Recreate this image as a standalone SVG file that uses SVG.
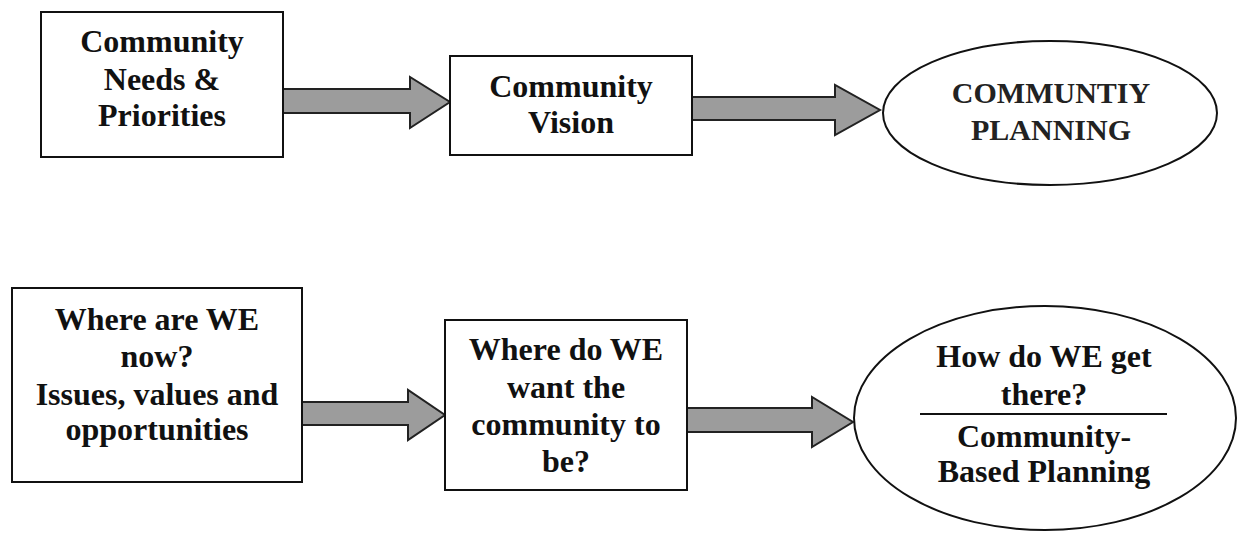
<svg xmlns="http://www.w3.org/2000/svg" width="1239" height="533" viewBox="0 0 1239 533">
<style>
.box{fill:#fff;stroke:#111;stroke-width:2}
.t{font-family:"Liberation Serif","Times New Roman",serif;font-weight:bold;font-size:32px;fill:#111;text-anchor:middle}
.tr{font-family:"Liberation Serif","Times New Roman",serif;font-weight:bold;font-size:30px;fill:#222;text-anchor:middle}
.arrow{fill:#9c9c9c;stroke:#222;stroke-width:2;stroke-linejoin:miter}
</style>
<rect width="1239" height="533" fill="#fff"/>
<g id="connectors">
<polygon class="arrow" points="283,89 410,89 410,77 450,102 410,128 410,113 283,113"/>
<polygon class="arrow" points="692,97 835,97 835,85 880,110 835,135 835,120 692,120"/>
<polygon class="arrow" points="302,402 408,402 408,390 445,415 408,440 408,425 302,425"/>
<polygon class="arrow" points="687,408 812,408 812,397 853,422 812,447 812,432 687,432"/>
</g>
<g id="n1">
<rect class="box" x="41" y="12" width="242" height="145"/>
<text class="t" x="162" y="52">Community</text>
<text class="t" x="162" y="90">Needs &amp;</text>
<text class="t" x="162" y="126">Priorities</text>
</g>
<g id="n2">
<rect class="box" x="450" y="56" width="242" height="99"/>
<text class="t" x="571" y="97">Community</text>
<text class="t" x="571" y="133">Vision</text>
</g>
<g id="n3">
<ellipse class="box" cx="1050" cy="113" rx="167" ry="72"/>
<text class="tr" x="1051" y="103">COMMUNTIY</text>
<text class="tr" x="1051" y="140">PLANNING</text>
</g>
<g id="n4">
<rect class="box" x="12" y="288" width="290" height="194"/>
<text class="t" x="157" y="330">Where are WE</text>
<text class="t" x="157" y="367">now?</text>
<text class="t" x="157" y="405">Issues, values and</text>
<text class="t" x="157" y="440">opportunities</text>
</g>
<g id="n5">
<rect class="box" x="445" y="320" width="242" height="170"/>
<text class="t" x="566" y="360">Where do WE</text>
<text class="t" x="566" y="398">want the</text>
<text class="t" x="566" y="435">community to</text>
<text class="t" x="566" y="472">be?</text>
</g>
<g id="n6">
<ellipse class="box" cx="1045" cy="418" rx="191" ry="112"/>
<text class="t" x="1044" y="367">How do WE get</text>
<text class="t" x="1044" y="405">there?</text>
<line x1="920" y1="414" x2="1167" y2="414" stroke="#111" stroke-width="2"/>
<text class="t" x="1044" y="447">Community-</text>
<text class="t" x="1044" y="482">Based Planning</text>
</g>
</svg>
